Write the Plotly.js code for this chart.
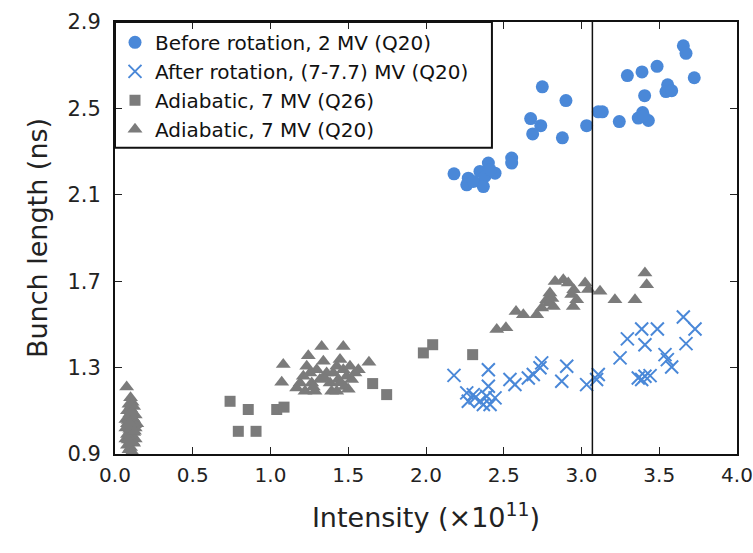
<!DOCTYPE html>
<html>
<head>
<meta charset="utf-8">
<script src="https://cdn.plot.ly/plotly-3.0.1.min.js"></script>
<style>body{margin:0;padding:0;background:#fff}#chart{width:753px;height:553px}</style>
</head>
<body>
<div id="chart"></div>
<script>
// Before rotation, 2 MV (Q20)
const beforeX = [2.18,2.272,2.262,2.347,2.401,2.358,2.379,2.444,2.412,2.304,2.369,2.551,2.551,
  2.748,2.9,2.673,2.738,2.686,2.877,3.033,3.108,3.134,3.243,3.295,3.389,3.486,3.655,3.672,3.725,
  3.554,3.543,3.58,3.406,3.393,3.365,3.43,3.399];
const beforeY = [2.197,2.177,2.146,2.208,2.247,2.154,2.185,2.2,2.216,2.162,2.138,2.27,2.247,
  2.60,2.536,2.453,2.42,2.382,2.364,2.42,2.484,2.484,2.439,2.652,2.669,2.695,2.79,2.755,2.642,
  2.609,2.578,2.582,2.559,2.481,2.455,2.444,2.465];

// After rotation, (7-7.7) MV (Q20)
const afterX = [2.18,2.401,2.401,2.262,2.272,2.315,2.347,2.39,2.412,2.444,2.369,2.304,
  2.54,2.572,2.658,2.69,2.733,2.744,2.905,2.873,3.033,3.108,3.097,3.248,3.295,3.387,3.488,
  3.408,3.655,3.73,3.672,3.537,3.552,3.58,3.365,3.408,3.441,3.387];
const afterY = [1.264,1.29,1.214,1.183,1.144,1.16,1.144,1.167,1.129,1.16,1.129,1.175,
  1.245,1.222,1.252,1.268,1.299,1.322,1.306,1.237,1.221,1.268,1.245,1.345,1.433,1.479,1.479,
  1.406,1.534,1.479,1.411,1.36,1.337,1.303,1.252,1.26,1.263,1.245];

// Adiabatic, 7 MV (Q26)
const adQ26X = [0.74,0.857,0.793,0.907,1.04,1.087,1.657,1.747,1.983,2.043,2.3];
const adQ26Y = [1.144,1.106,1.005,1.005,1.106,1.117,1.226,1.175,1.368,1.406,1.36];

// Adiabatic, 7 MV (Q20)
const adQ20X = [
  0.075,0.10,0.11,0.09,0.12,0.10,0.08,0.11,0.13,0.09,0.12,0.07,0.10,0.14,0.08,0.11,0.13,0.07,
  0.10,0.12,0.08,0.11,0.13,0.07,0.10,0.12,0.08,0.10,0.09,0.11,
  0.105,0.095,0.115,0.085,0.125,0.095,0.105,0.115,0.085,0.125,0.105,0.095,
  1.082,1.072,1.243,1.329,1.34,1.468,1.633,1.19,1.211,1.222,1.254,1.265,1.286,1.297,1.318,
  1.233,1.361,1.383,1.393,1.404,1.426,1.436,1.447,1.468,1.479,1.49,1.511,1.522,1.543,1.565,
  1.426,1.168,1.275,1.45,1.5,1.35,
  2.455,2.514,2.579,2.626,2.712,2.744,2.776,2.797,2.819,2.83,2.883,2.915,2.937,2.947,2.969,
  3.023,3.044,3.119,3.215,3.344,3.408,3.419,2.787,2.81,2.95];
const adQ20Y = [
  1.21,1.16,1.14,1.13,1.12,1.11,1.10,1.09,1.08,1.07,1.06,1.06,1.05,1.04,1.04,1.03,1.02,1.02,
  1.01,1.00,0.99,0.98,0.97,0.97,0.96,0.95,0.94,0.93,0.92,0.91,
  1.125,1.085,1.065,1.055,1.035,1.015,0.985,0.955,0.965,1.005,1.095,1.045,
  1.314,1.232,1.355,1.398,1.329,1.398,1.325,1.229,1.26,1.19,1.275,1.229,1.19,1.29,1.245,
  1.306,1.275,1.229,1.19,1.275,1.306,1.245,1.337,1.29,1.213,1.26,1.306,1.245,1.275,1.29,
  1.19,1.206,1.21,1.23,1.2,1.25,
  1.476,1.484,1.56,1.545,1.545,1.576,1.614,1.645,1.583,1.699,1.707,1.692,1.638,1.583,1.614,
  1.692,1.661,1.653,1.614,1.614,1.738,1.684,1.599,1.62,1.66];

const xTickVals = [0,0.5,1,1.5,2,2.5,3,3.5,4];
const yTickVals = [0.9,1.3,1.7,2.1,2.5,2.9];
const markLine = 3.07;

const blue = '#4a88d8';
const grey = '#7b7b7b';
const FONT = 'DejaVu Sans, sans-serif';

const traces = [
  {x: beforeX, y: beforeY, type: 'scatter', mode: 'markers', name: 'Before rotation, 2 MV (Q20)',
   marker: {symbol: 'circle', size: 13, color: blue}},
  {x: afterX, y: afterY, type: 'scatter', mode: 'markers', name: 'After rotation, (7-7.7) MV (Q20)',
   marker: {symbol: 'x-thin', size: 13, color: blue, line: {color: blue, width: 2}}},
  {x: adQ26X, y: adQ26Y, type: 'scatter', mode: 'markers', name: 'Adiabatic, 7 MV (Q26)',
   marker: {symbol: 'square', size: 11, color: grey}},
  {x: adQ20X, y: adQ20Y, type: 'scatter', mode: 'markers', name: 'Adiabatic, 7 MV (Q20)',
   marker: {symbol: 'triangle-up', size: 13, color: grey}}
];

const layout = {
  width: 753, height: 553,
  margin: {l: 115, r: 16, t: 22, b: 98.5},
  paper_bgcolor: '#fff', plot_bgcolor: '#fff',
  font: {family: FONT, color: '#222'},
  showlegend: true,
  legend: {x: 0.0, y: 0.998, xanchor: 'left', yanchor: 'top', bgcolor: 'rgba(0,0,0,0)',
    borderwidth: 0, font: {family: FONT, size: 20, color: '#111'}, itemwidth: 30},
  xaxis: {range: [0, 4], tickvals: xTickVals, tickformat: '.1f', ticks: 'inside', ticklen: 7,
    tickcolor: '#222', showline: true, linecolor: '#111', linewidth: 2, mirror: 'ticks',
    showgrid: false, zeroline: false, tickfont: {family: FONT, size: 20, color: '#222'},
    ticklabelstandoff: 2, ticklabeloverflow: 'allow', automargin: false,
    title: {text: 'Intensity (×10<sup>11</sup>)', font: {family: FONT, size: 27, color: '#222'}, standoff: 22}},
  yaxis: {range: [0.9, 2.9], tickvals: yTickVals, tickformat: '.1f', ticks: 'inside', ticklen: 7,
    tickcolor: '#222', showline: true, linecolor: '#111', linewidth: 2, mirror: 'ticks',
    showgrid: false, zeroline: false, tickfont: {family: FONT, size: 21, color: '#222'},
    ticklabelstandoff: 8, ticklabeloverflow: 'allow', automargin: false,
    title: {text: 'Bunch length (ns)', font: {family: FONT, size: 27, color: '#222'}, standoff: 12}},
  shapes: [
    {type: 'line', xref: 'x', yref: 'paper', x0: markLine, x1: markLine, y0: 0, y1: 1,
     line: {color: '#111', width: 1.5}},
    {type: 'rect', xref: 'paper', yref: 'paper', x0: 0, x1: 0.606, y0: 0.709, y1: 1,
     line: {color: '#111', width: 2}, fillcolor: 'rgba(0,0,0,0)'}
  ]
};

Plotly.newPlot('chart', traces, layout, {displayModeBar: false, staticPlot: true});
</script>
</body>
</html>
